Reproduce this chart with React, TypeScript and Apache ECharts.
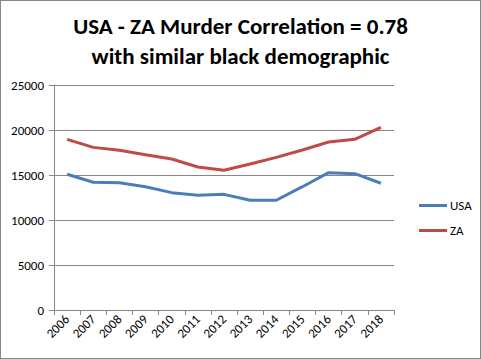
import React, { useEffect, useRef } from "react";
import * as echarts from "echarts";

const years = ["2006","2007","2008","2009","2010","2011","2012","2013","2014","2015","2016","2017","2018"];
const usa = [15080, 14190, 14150, 13700, 13040, 12740, 12850, 12190, 12190, 13700, 15260, 15150, 14080];
const za = [18960, 18070, 17740, 17260, 16780, 15890, 15520, 16220, 16960, 17780, 18670, 18960, 20300];
const titleLines = ["USA - ZA Murder Correlation = 0.78", "with similar black demographic"];

export default function App() {
  const ref = useRef<HTMLDivElement>(null);
  useEffect(() => {
    document.body.style.margin = "0";
    const chart = echarts.init(ref.current!, null, { renderer: "svg" });
    const font = "Carlito, 'Open Sans', 'Liberation Sans', sans-serif";
    chart.setOption({
      animation: false,
      backgroundColor: "#fff",
      title: {
        text: titleLines.join("\n"),
        left: "center",
        top: 5,
        textStyle: { fontFamily: font, fontWeight: "bold", fontSize: 23, lineHeight: 30, color: "#000" },
      },
      legend: {
        orient: "vertical",
        left: 413,
        top: 193,
        itemWidth: 28,
        itemHeight: 3,
        itemGap: 12,
        icon: "rect",
        textStyle: { fontFamily: font, fontSize: 13, color: "#000", padding: [0, 0, 0, -2] },
        data: ["USA", "ZA"],
      },
      grid: { left: 53, right: 86, top: 84, bottom: 48, containLabel: false },
      xAxis: {
        type: "category",
        data: years,
        boundaryGap: true,
        axisLine: { lineStyle: { color: "#868686", width: 1 } },
        axisTick: { show: true, length: 5, lineStyle: { color: "#868686" } },
        axisLabel: { rotate: 45, color: "#000", fontFamily: font, fontSize: 13, margin: 7, interval: 0 },
      },
      yAxis: {
        type: "value",
        min: 0,
        max: 25000,
        interval: 5000,
        axisLine: { show: true, lineStyle: { color: "#868686", width: 1 } },
        axisTick: { show: true, length: 5, lineStyle: { color: "#868686" } },
        axisLabel: { color: "#000", fontFamily: font, fontSize: 13, margin: 10, formatter: (v: number) => String(v) },
        splitLine: { lineStyle: { color: "#868686", width: 1 } },
      },
      series: [
        { name: "USA", type: "line", data: usa, symbol: "none", lineStyle: { color: "#4A7EBB", width: 3 }, itemStyle: { color: "#4A7EBB" } },
        { name: "ZA", type: "line", data: za, symbol: "none", lineStyle: { color: "#BE4B48", width: 3 }, itemStyle: { color: "#BE4B48" } },
      ],
    });
    return () => chart.dispose();
  }, []);
  return (
    <div style={{ width: 481, height: 359, border: "1px solid #868686", boxSizing: "border-box" }}>
      <div ref={ref} style={{ width: 479, height: 357 }} />
    </div>
  );
}
